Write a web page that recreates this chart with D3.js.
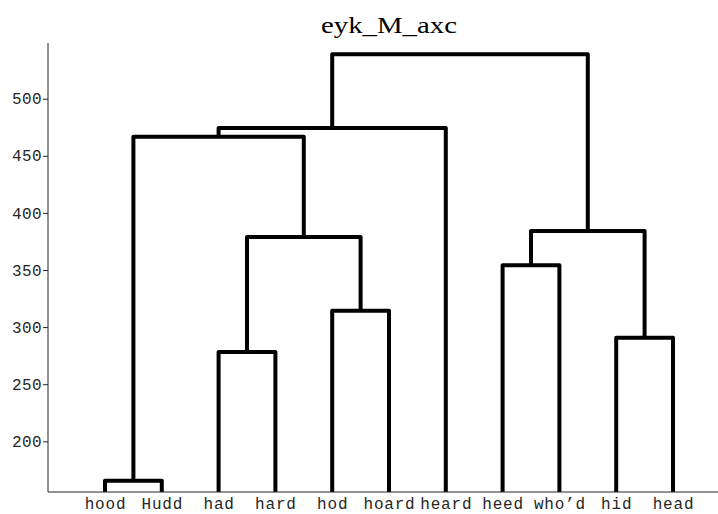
<!DOCTYPE html>
<html>
<head>
<meta charset="utf-8">
<script src="https://cdn.jsdelivr.net/npm/d3@7"></script>
<style>
  html, body { margin: 0; padding: 0; background: #fff; }
  svg { display: block; }
</style>
</head>
<body>
<svg id="chart" width="718" height="514"></svg>
<script>
// ---- data ----
const title = "eyk_M_axc";
const leafLabels = ["hood", "Hudd", "had", "hard", "hod", "hoard", "heard", "heed", "who\u2019d", "hid", "head"];
// linkage: [left node, right node, merge height]; nodes 0..10 are leaves, 11+ are clusters in order
const mergeLeft   = [0, 2, 9, 4, 7, 12, 15, 11, 18, 19];
const mergeRight  = [1, 3, 10, 5, 8, 14, 13, 16, 6, 17];
const mergeHeight = [165.5, 278.2, 290.7, 314.4, 354.1, 378.9, 384.2, 466.7, 474.3, 538.9];
const yTicks = [200, 250, 300, 350, 400, 450, 500];

// ---- scales ----
const svg = d3.select("#chart");
const x = d3.scaleLinear().domain([0, leafLabels.length + 1]).range([48.2, 729.8]);
const y = d3.scaleLinear().domain([155.6, 548.8]).range([492, 43]);
const yMin = y.domain()[0];

// node positions
const nodeX = leafLabels.map((d, i) => x(i + 1));
const nodeY = leafLabels.map(() => yMin);
mergeHeight.forEach((h, k) => {
  const a = mergeLeft[k], b = mergeRight[k];
  nodeX.push((nodeX[a] + nodeX[b]) / 2);
  nodeY.push(h);
});

// clip to plot area
svg.append("defs").append("clipPath").attr("id", "clip")
  .append("rect").attr("x", 48).attr("y", 43).attr("width", 718 - 48).attr("height", 492 - 43);

// ---- links ----
const g = svg.append("g").attr("clip-path", "url(#clip)");
mergeHeight.forEach((h, k) => {
  const a = mergeLeft[k], b = mergeRight[k];
  const ax = nodeX[a], bx = nodeX[b];
  const ay = a < leafLabels.length ? y(yMin) + 2 : y(nodeY[a]);
  const by = b < leafLabels.length ? y(yMin) + 2 : y(nodeY[b]);
  const path = d3.path();
  path.moveTo(ax, ay);
  path.lineTo(ax, y(h));
  path.lineTo(bx, y(h));
  path.lineTo(bx, by);
  g.append("path")
    .attr("d", path.toString())
    .attr("fill", "none")
    .attr("stroke", "#000")
    .attr("stroke-width", 4)
    .attr("stroke-linejoin", "round");
});

// ---- axes ----
const axisColor = "#262626";
const yAxis = svg.append("g")
  .attr("transform", "translate(48,0)")
  .call(d3.axisLeft(y).tickValues(yTicks).tickSize(5).tickPadding(1).tickFormat(d3.format("d")));
yAxis.select(".domain").remove();
yAxis.append("line").attr("x1", 0).attr("x2", 0).attr("y1", 43).attr("y2", 492)
  .attr("stroke", axisColor).attr("stroke-width", 1);
yAxis.selectAll(".tick line").attr("stroke", axisColor);
yAxis.selectAll(".tick text")
  .attr("fill", axisColor)
  .style("font-family", "'Liberation Mono', 'DejaVu Sans Mono', monospace")
  .style("font-size", "16px")
  .style("letter-spacing", "0.4px");

const xAxis = svg.append("g")
  .attr("transform", "translate(0,492)")
  .call(d3.axisBottom(x).tickValues(d3.range(1, leafLabels.length + 1)).tickSize(0).tickPadding(6)
    .tickFormat(d => leafLabels[d - 1]));
xAxis.select(".domain").attr("stroke", axisColor).attr("d", "M48,0H718");
xAxis.selectAll(".tick text")
  .attr("fill", axisColor)
  .style("font-family", "'Liberation Mono', 'DejaVu Sans Mono', monospace")
  .style("font-size", "16px")
  .style("letter-spacing", "0.8px");

// ---- title ----
svg.append("text")
  .attr("x", (x.range()[0] + x.range()[1]) / 2)
  .attr("y", 33)
  .attr("text-anchor", "middle")
  .attr("textLength", 136)
  .attr("lengthAdjust", "spacingAndGlyphs")
  .style("font-family", "'Liberation Serif', 'DejaVu Serif', serif")
  .style("font-size", "23px")
  .attr("fill", "#000")
  .text(title);
</script>
</body>
</html>
